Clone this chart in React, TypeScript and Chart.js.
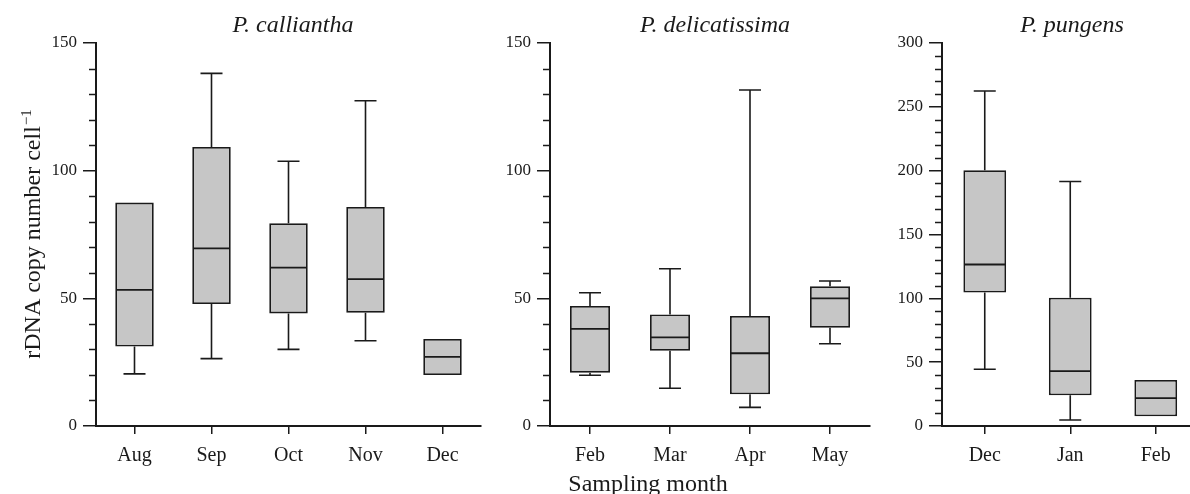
import React, { useEffect, useRef } from 'react';
import { Chart, registerables } from 'chart.js';

Chart.register(...registerables);

// ---------------- data ----------------
const callianthaMonths = ['Aug', 'Sep', 'Oct', 'Nov', 'Dec'];
const callianthaMin = [20.4, 26.4, 30.0, 33.4, null];
const callianthaQ1 = [31.1, 47.8, 44.1, 44.4, 20.0];
const callianthaMedian = [53.3, 69.6, 62.0, 57.5, 27.1];
const callianthaQ3 = [87.5, 109.3, 79.4, 85.8, 34.1];
const callianthaMax = [null, 138.1, 103.7, 127.4, null];

const delicatissimaMonths = ['Feb', 'Mar', 'Apr', 'May'];
const delicatissimaMin = [19.9, 14.8, 7.3, 32.2];
const delicatissimaQ1 = [20.9, 29.5, 12.4, 38.5];
const delicatissimaMedian = [38.0, 34.7, 28.5, 50.0];
const delicatissimaQ3 = [47.0, 43.7, 43.1, 54.7];
const delicatissimaMax = [52.2, 61.6, 131.6, 56.8];

const pungensMonths = ['Dec', 'Jan', 'Feb'];
const pungensMin = [44.4, 4.7, null];
const pungensQ1 = [104.6, 24.0, 7.6];
const pungensMedian = [126.5, 43.0, 21.9];
const pungensQ3 = [200.3, 100.4, 36.0];
const pungensMax = [262.4, 191.5, null];

const panelTitles = ['P. calliantha', 'P. delicatissima', 'P. pungens'];
const yAxisMaxima = [150, 150, 300];
const yTitle = 'rDNA copy number cell';
const yTitleSup = '\u22121';
const xTitle = 'Sampling month';

// ---------------- style ----------------
const FONT = "'Liberation Serif', 'Times New Roman', Times, serif";
const INK = '#1a1a1a';
const BOX_FILL = '#c6c6c6';

type PanelProps = {
  left: number;
  width: number;
  yAxisWidth: number;
  padRight: number;
  months: string[];
  mins: (number | null)[];
  q1s: number[];
  medians: number[];
  q3s: number[];
  maxs: (number | null)[];
  yMax: number;
  title: string;
  titleX: number;
  extra?: (ctx: CanvasRenderingContext2D, chart: any) => void;
};

const H = 494;
const PLOT_TOP = 43;
const PLOT_BOTTOM = 426;

function BoxPanel(p: PanelProps) {
  const ref = useRef<HTMLCanvasElement | null>(null);
  useEffect(() => {
    if (!ref.current) return;
    const boxPlugin = {
      id: 'boxWhiskers',
      afterDatasetsDraw(chart: any) {
        const ctx = chart.ctx as CanvasRenderingContext2D;
        const meta = chart.getDatasetMeta(0);
        const ys = chart.scales.y;
        ctx.save();
        ctx.strokeStyle = INK;
        ctx.lineCap = 'butt';
        meta.data.forEach((el: any, i: number) => {
          const x = el.x;
          const w = el.width;
          const cap = 11;
          ctx.lineWidth = 1.8;
          // median
          const ym = ys.getPixelForValue(p.medians[i]);
          ctx.beginPath();
          ctx.moveTo(x - w / 2 + 1, ym);
          ctx.lineTo(x + w / 2 - 1, ym);
          ctx.stroke();
          ctx.lineWidth = 1.6;
          const mx = p.maxs[i];
          if (mx != null && mx > p.q3s[i]) {
            const y0 = ys.getPixelForValue(p.q3s[i]);
            const y1 = ys.getPixelForValue(mx);
            ctx.beginPath();
            ctx.moveTo(x, y0);
            ctx.lineTo(x, y1);
            ctx.moveTo(x - cap, y1);
            ctx.lineTo(x + cap, y1);
            ctx.stroke();
          }
          const mn = p.mins[i];
          if (mn != null && mn < p.q1s[i]) {
            const y0 = ys.getPixelForValue(p.q1s[i]);
            const y1 = ys.getPixelForValue(mn);
            ctx.beginPath();
            ctx.moveTo(x, y0);
            ctx.lineTo(x, y1);
            ctx.moveTo(x - cap, y1);
            ctx.lineTo(x + cap, y1);
            ctx.stroke();
          }
        });
        ctx.restore();
      },
      afterDraw(chart: any) {
        const ctx = chart.ctx as CanvasRenderingContext2D;
        const ys = chart.scales.y;
        const left = chart.chartArea.left;
        ctx.save();
        // minor ticks
        ctx.strokeStyle = INK;
        ctx.lineWidth = 1.5;
        for (let v = 10; v < p.yMax; v += 10) {
          if (v % 50 === 0) continue;
          const y = Math.round(ys.getPixelForValue(v)) + 0.5;
          ctx.beginPath();
          ctx.moveTo(left - 7, y);
          ctx.lineTo(left, y);
          ctx.stroke();
        }
        // panel title
        ctx.fillStyle = INK;
        ctx.font = `italic 24px ${FONT}`;
        ctx.textAlign = 'center';
        ctx.textBaseline = 'alphabetic';
        ctx.fillText(p.title, p.titleX, 32);
        if (p.extra) p.extra(ctx, chart);
        ctx.restore();
      },
    };

    const chart = new Chart(ref.current, {
      type: 'bar',
      data: {
        labels: p.months,
        datasets: [
          {
            data: p.q1s.map((q, i) => [q, p.q3s[i]]) as any,
            backgroundColor: BOX_FILL,
            borderColor: INK,
            borderWidth: 1.8,
            borderSkipped: false,
            barPercentage: 0.5,
            categoryPercentage: 1,
          },
        ],
      },
      options: {
        animation: false,
        responsive: false,
        devicePixelRatio: 1,
        events: [],
        layout: { padding: { left: 0, top: PLOT_TOP, right: p.padRight, bottom: 0 } },
        plugins: {
          legend: { display: false },
          tooltip: { enabled: false },
          title: { display: false },
        },
        scales: {
          x: {
            type: 'category',
            offset: true,
            grid: {
              display: true,
              drawOnChartArea: false,
              drawTicks: true,
              tickLength: 8,
              offset: false,
              color: INK,
              lineWidth: 1.5,
            },
            border: { display: true, color: INK, width: 2 },
            ticks: {
              font: { family: FONT, size: 20 },
              color: INK,
              padding: 10,
              autoSkip: false,
              maxRotation: 0,
            },
            afterFit: (s: any) => {
              s.height = H - PLOT_BOTTOM;
            },
          },
          y: {
            min: 0,
            max: p.yMax,
            ticks: {
              stepSize: 50,
              font: { family: FONT, size: 17 },
              color: INK,
              padding: 6,
            },
            grid: {
              display: true,
              drawOnChartArea: false,
              drawTicks: true,
              tickLength: 13,
              color: INK,
              lineWidth: 1.5,
            },
            border: { display: true, color: INK, width: 2 },
            afterFit: (s: any) => {
              s.width = p.yAxisWidth;
            },
          },
        },
      },
      plugins: [boxPlugin],
    });
    return () => chart.destroy();
  }, []);
  return (
    <canvas
      ref={ref}
      width={p.width}
      height={H}
      style={{ position: 'absolute', left: p.left, top: 0, width: p.width, height: H, display: 'block' }}
    />
  );
}

function drawYTitle(ctx: CanvasRenderingContext2D) {
  ctx.save();
  ctx.fillStyle = INK;
  ctx.translate(40, 234);
  ctx.rotate(-Math.PI / 2);
  ctx.font = `24px ${FONT}`;
  const mainW = ctx.measureText(yTitle).width;
  ctx.font = `15px ${FONT}`;
  const supW = ctx.measureText(yTitleSup).width;
  const total = mainW + supW + 1;
  ctx.textAlign = 'left';
  ctx.textBaseline = 'alphabetic';
  ctx.font = `24px ${FONT}`;
  ctx.fillText(yTitle, -total / 2, 0);
  ctx.font = `15px ${FONT}`;
  ctx.fillText(yTitleSup, -total / 2 + mainW + 1, -9);
  ctx.restore();
}

function drawXTitle(ctx: CanvasRenderingContext2D) {
  ctx.save();
  ctx.fillStyle = INK;
  ctx.font = `24px ${FONT}`;
  ctx.textAlign = 'center';
  ctx.textBaseline = 'alphabetic';
  ctx.fillText(xTitle, 158, 491);
  ctx.restore();
}

export default function App() {
  return (
    <div
      style={{
        position: 'absolute',
        left: 0,
        top: 0,
        width: 1190,
        height: H,
        overflow: 'hidden',
        background: '#ffffff',
      }}
    >
      <BoxPanel
        left={0}
        width={490}
        yAxisWidth={96}
        padRight={9}
        months={callianthaMonths}
        mins={callianthaMin}
        q1s={callianthaQ1}
        medians={callianthaMedian}
        q3s={callianthaQ3}
        maxs={callianthaMax}
        yMax={yAxisMaxima[0]}
        title={panelTitles[0]}
        titleX={293}
        extra={(ctx) => drawYTitle(ctx)}
      />
      <BoxPanel
        left={490}
        width={390}
        yAxisWidth={60}
        padRight={10}
        months={delicatissimaMonths}
        mins={delicatissimaMin}
        q1s={delicatissimaQ1}
        medians={delicatissimaMedian}
        q3s={delicatissimaQ3}
        maxs={delicatissimaMax}
        yMax={yAxisMaxima[1]}
        title={panelTitles[1]}
        titleX={225}
        extra={(ctx) => drawXTitle(ctx)}
      />
      <BoxPanel
        left={880}
        width={330}
        yAxisWidth={62}
        padRight={11.5}
        months={pungensMonths}
        mins={pungensMin}
        q1s={pungensQ1}
        medians={pungensMedian}
        q3s={pungensQ3}
        maxs={pungensMax}
        yMax={yAxisMaxima[2]}
        title={panelTitles[2]}
        titleX={192}
      />
    </div>
  );
}
